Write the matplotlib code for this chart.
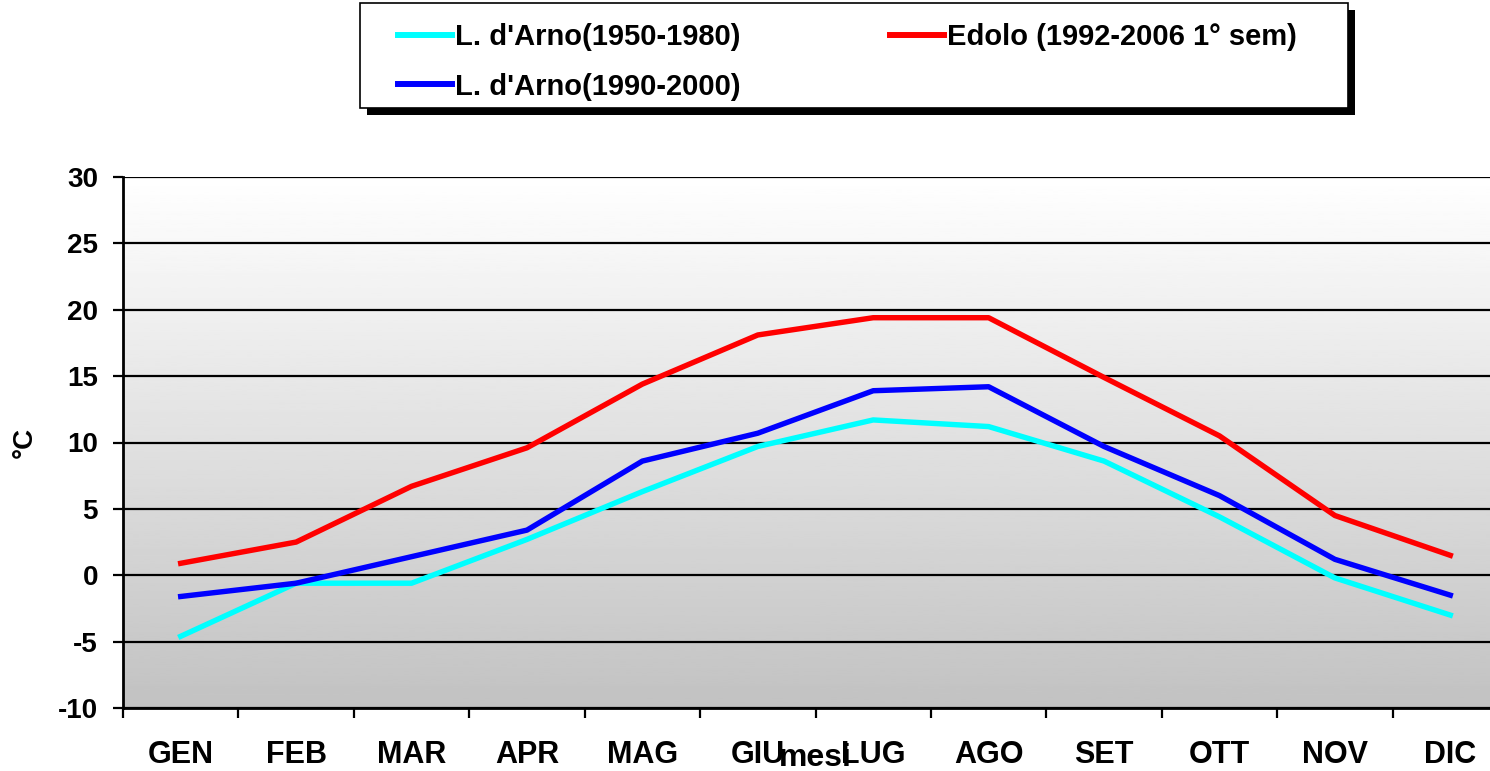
import numpy as np
import matplotlib
matplotlib.use("Agg")
import matplotlib.pyplot as plt
from matplotlib.patches import Rectangle

months = ["GEN", "FEB", "MAR", "APR", "MAG", "GIU", "LUG", "AGO", "SET", "OTT", "NOV", "DIC"]
arno_1950 = [-4.6, -0.6, -0.6, 2.7, 6.3, 9.7, 11.7, 11.2, 8.6, 4.4, -0.2, -3.0]
arno_1990 = [-1.6, -0.6, 1.4, 3.4, 8.6, 10.7, 13.9, 14.2, 9.7, 6.0, 1.2, -1.5]
edolo = [0.9, 2.5, 6.7, 9.6, 14.4, 18.1, 19.4, 19.4, 14.9, 10.5, 4.5, 1.5]

plt.rcParams["font.family"] = ["Liberation Sans", "DejaVu Sans"]
plt.rcParams["font.weight"] = "bold"
plt.rcParams["axes.unicode_minus"] = False

W, H = 1490, 771
fig = plt.figure(figsize=(W / 100, H / 100), dpi=100)
ax = fig.add_axes([123 / W, 63 / H, 1385 / W, 531 / H])

x = np.arange(len(months))
ax.set_xlim(-0.5, len(months) - 0.5)
ax.set_ylim(-10, 30)

# gray gradient background
grad = np.linspace(0.76, 1.0, 256).reshape(-1, 1)
ax.imshow(grad, cmap="gray", vmin=0, vmax=1, aspect="auto", origin="lower",
          extent=(-0.5, len(months) - 0.5, -10, 30), zorder=0)

ax.set_yticks(range(-10, 31, 5))
ax.grid(axis="y", color="black", lw=1.6, zorder=1)
ax.set_axisbelow(False)

l1, = ax.plot(x, arno_1950, color="#00ffff", lw=3.9, zorder=3, label="L. d'Arno(1950-1980)")
l2, = ax.plot(x, arno_1990, color="#0000ff", lw=3.9, zorder=4, label="L. d'Arno(1990-2000)")
l3, = ax.plot(x, edolo, color="#ff0000", lw=3.9, zorder=5, label="Edolo (1992-2006 1° sem)")

ax.set_xticks(x)
ax.set_xticklabels(months, fontsize=22, fontweight="bold")
ax.set_xticks(np.arange(-0.5, len(months)), minor=True)
ax.tick_params(axis="x", which="major", length=0, pad=23)
ax.tick_params(axis="x", which="minor", length=7, width=1.6, direction="out")
ax.tick_params(axis="y", length=7, width=1.6, labelsize=20, pad=11)

for s in ["top", "right"]:
    ax.spines[s].set_visible(False)
for s in ["left", "bottom"]:
    ax.spines[s].set_linewidth(2)

ax.set_xlabel("mesi", fontsize=23, fontweight="bold")
ax.xaxis.set_label_coords(0.5, -(758 - 708) / 531)
ax.xaxis.label.set_va("center")
ax.set_ylabel("°C", fontsize=20, fontweight="bold")
ax.yaxis.set_label_coords(-(123 - 25) / 1385, 0.5)
ax.yaxis.label.set_va("center")

# legend box with drop shadow, drawn by hand
bx0, by0, bw, bh = 360 / W, 1 - 108 / H, 988 / W, 105 / H
fig.add_artist(Rectangle((bx0 + 7 / W, by0 - 7 / H), bw, bh, transform=fig.transFigure,
                         facecolor="black", edgecolor="none", zorder=5))
fig.add_artist(Rectangle((bx0, by0), bw, bh, transform=fig.transFigure,
                         facecolor="white", edgecolor="black", lw=1.2, zorder=6))

leg = fig.legend(handles=[l1, l2, l3], ncol=2, loc="upper left",
                 bbox_to_anchor=(398 / W, 1 - 23 / H), frameon=False,
                 prop={"size": 21, "weight": "bold"},
                 handlelength=1.85, handletextpad=0.12, borderaxespad=0, borderpad=0,
                 labelspacing=0.74, columnspacing=5.1)
leg.set_zorder(7)
for h in leg.get_lines():
    h.set_linewidth(4.3)

fig.savefig("out.png", dpi=100)
